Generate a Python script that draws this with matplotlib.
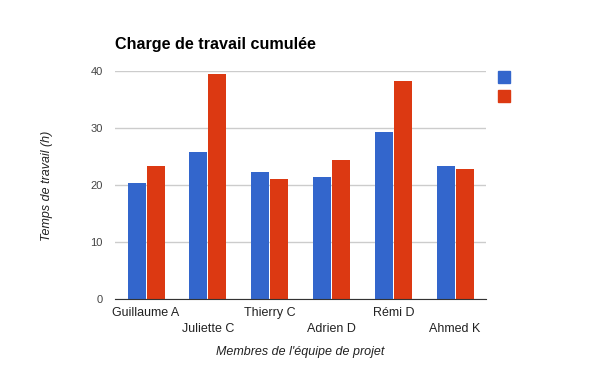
import matplotlib.pyplot as plt
import numpy as np

plt.rcParams['font.family'] = ['Liberation Sans', 'DejaVu Sans']

# Data
members = ['Guillaume A', 'Juliette C', 'Thierry C', 'Adrien D', 'Rémi D', 'Ahmed K']
serie1 = [20.4, 25.8, 22.3, 21.4, 29.3, 23.4]
serie2 = [23.4, 39.4, 21.1, 24.4, 38.3, 22.8]

blue = '#3366cc'
red = '#dc3912'

fig = plt.figure(figsize=(6, 3.71), dpi=100)
ax = fig.add_axes([0.192, 0.194, 0.618, 0.615])

x = np.arange(len(members))
w = 0.29
ax.bar(x - w / 2 - 0.008, serie1, w, color=blue, zorder=3)
ax.bar(x + w / 2 + 0.008, serie2, w, color=red, zorder=3)

ax.set_xlim(-0.5, len(members) - 0.5)
ax.set_ylim(0, 40)
ax.set_yticks([0, 10, 20, 30, 40])
ax.yaxis.grid(True, color='#cccccc', linewidth=1, zorder=0)
for s in ['top', 'right', 'left']:
    ax.spines[s].set_visible(False)
ax.spines['bottom'].set_color('#333333')
ax.spines['bottom'].set_zorder(4)
ax.tick_params(axis='y', length=0, labelsize=8, labelcolor='#444444', pad=9)
ax.tick_params(axis='x', length=0, labelsize=9, labelcolor='#222222')

# staggered category labels
ax.set_xticks(x)
ax.set_xticklabels([])
for i, name in enumerate(members):
    off = -14 if i % 2 == 0 else -30
    ax.annotate(name, (i, 0), xycoords=('data', 'axes fraction'),
                xytext=(0, off), textcoords='offset pixels',
                ha='center', va='center', fontsize=9, color='#222222')

fig.text(0.192, 0.88, 'Charge de travail cumulée', fontsize=11.6, fontweight='bold',
         ha='left', va='center', color='#000000')
fig.text(0.5, 0.05, "Membres de l'équipe de projet", fontsize=9, style='italic',
         ha='center', va='center', color='#222222')
fig.text(0.078, 0.5, 'Temps de travail (h)', fontsize=9, style='italic',
         rotation=90, ha='center', va='center', color='#222222')

# legend squares without labels
for j, c in enumerate([blue, red]):
    fig.patches.append(plt.Rectangle((498 / 600, 1 - (83 + 19 * j) / 371), 12 / 600, 12 / 371,
                                     transform=fig.transFigure, color=c, figure=fig))

fig.savefig('out.png', dpi=100)
